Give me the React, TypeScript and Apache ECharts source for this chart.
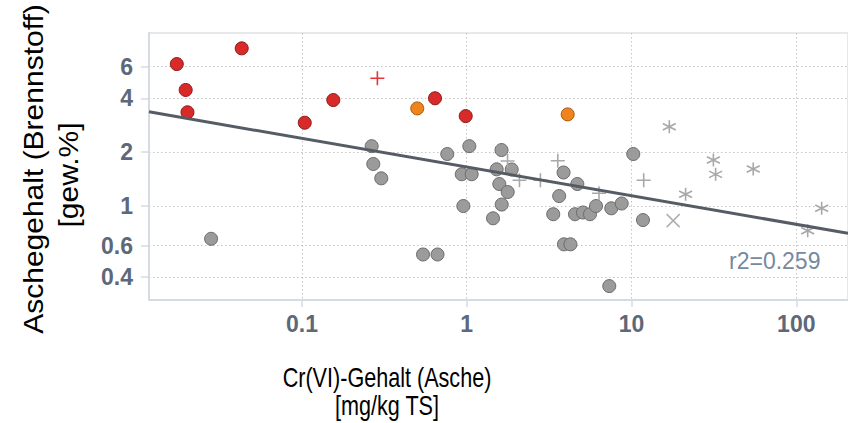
import React, { useEffect, useRef } from "react";
import * as echarts from "echarts";

const xTicks = [0.1, 1, 10, 100];
const yTicks = [0.4, 0.6, 1, 2, 4, 6];
const xRange = [0.0118, 206];
const yRange = [0.2985, 9.26];

const redCircles = [
  [0.0174, 6.21], [0.0431, 7.6], [0.0197, 4.45], [0.0202, 3.34],
  [0.104, 2.92], [0.155, 3.91], [0.642, 4.0], [0.986, 3.18],
];
const orangeCircles = [[0.501, 3.51], [4.1, 3.25]];
const redPlus = [[0.287, 5.17]];
const greyCircles = [
  [0.0281, 0.656], [0.265, 2.16], [0.271, 1.717], [0.303, 1.428],
  [0.543, 0.536], [0.665, 0.536], [0.762, 1.952], [0.933, 1.505],
  [1.072, 1.505], [0.954, 1.0], [1.037, 2.16], [1.444, 0.854],
  [1.52, 1.603], [1.626, 2.055], [1.875, 1.6], [1.577, 1.327],
  [1.773, 1.197], [1.631, 1.019], [3.87, 1.539], [4.69, 1.327],
  [3.64, 1.137], [3.35, 0.9], [4.54, 0.9], [5.08, 0.92],
  [5.6, 0.9], [6.09, 1.0], [7.54, 0.971], [8.72, 1.033],
  [3.89, 0.611], [4.26, 0.611], [7.33, 0.357], [10.25, 1.952],
  [11.74, 0.835],
];
const greyPlus = [
  [1.769, 1.784], [2.09, 1.392], [2.8, 1.392], [3.57, 1.79],
  [6.35, 1.178], [11.86, 1.392],
];
const greyCross = [[17.9, 0.828]];
const greyStar = [
  [16.96, 2.77], [31.4, 1.807], [32.4, 1.503], [54.8, 1.609],
  [21.3, 1.164], [142.6, 0.971], [117.3, 0.728],
];
const regression = [[0.0118, 3.36], [206, 0.704]];
const r2Label = "r2=0.259";
const xTitle = ["Cr(VI)-Gehalt (Asche)", "[mg/kg TS]"];
const yTitle = ["Aschegehalt (Brennstoff)", "[gew.%]"];

const PLUS = "path://M5,0L5,10M0,5L10,5";
const CROSS = "path://M0,0L10,10M0,10L10,0";
const STAR = "path://M5,0L5,10M0.67,2.5L9.33,7.5M0.67,7.5L9.33,2.5";

const tickFont = "Arial, 'Liberation Sans', sans-serif";
const tickColor = "#5d6878";
const titleFont = "Arial, 'Liberation Sans', sans-serif";

const fmt = (v: number) => String(Number(Number(v).toPrecision(3)));

export default function App() {
  const ref = useRef<HTMLDivElement>(null);
  useEffect(() => {
    if (!ref.current) return;
    const chart = echarts.init(ref.current, null, { renderer: "svg" });
    const splitLine = {
      show: true,
      lineStyle: { color: "#c4c4c4", width: 1, type: [1.5, 2.5] as any },
    };
    const circle = (data: number[][], fill: string, border: string, name: string) => ({
      type: "scatter",
      name,
      data,
      symbol: "circle",
      symbolSize: 13,
      itemStyle: { color: fill, borderColor: border, borderWidth: 1, opacity: 1 },
      z: 3,
    });
    const lineSym = (data: number[][], sym: string, size: number, color: string, name: string) => ({
      type: "scatter",
      name,
      data,
      symbol: sym,
      symbolSize: size,
      itemStyle: { color: "none", borderColor: color, borderWidth: 1.6, opacity: 1 },
      z: 3,
    });
    const title = (text: string, x: number, y: number, rot: number, size: number, sx: number, sy: number) => ({
      type: "text",
      x,
      y,
      rotation: rot,
      scaleX: sx,
      scaleY: sy,
      style: {
        text,
        fontSize: size,
        fontFamily: titleFont,
        fill: "#000",
        align: "center",
        verticalAlign: "middle",
      },
    });
    chart.setOption({
      animation: false,
      backgroundColor: "#ffffff",
      grid: {
        left: 149,
        top: 33,
        right: 0,
        bottom: 123,
        show: true,
        borderColor: "#e6e8ec",
        borderWidth: 2,
        outerBoundsMode: "none",
        containLabel: false,
      },
      xAxis: {
        type: "log",
        min: xRange[0],
        max: xRange[1],
        axisLine: { show: true, lineStyle: { color: "#d6dae3", width: 2 } },
        axisTick: { show: true, length: 7, lineStyle: { color: "#d6dae3", width: 1.5 }, customValues: xTicks },
        axisLabel: {
          customValues: xTicks,
          formatter: fmt,
          margin: 12,
          color: tickColor,
          fontSize: 23,
          fontWeight: "bold",
          fontFamily: tickFont,
        },
        splitLine,
      },
      yAxis: {
        type: "log",
        min: yRange[0],
        max: yRange[1],
        axisLine: { show: true, lineStyle: { color: "#d6dae3", width: 2 } },
        axisTick: { show: true, length: 8, lineStyle: { color: "#d6dae3", width: 1.5 }, customValues: yTicks },
        axisLabel: {
          customValues: yTicks,
          formatter: fmt,
          margin: 16,
          color: tickColor,
          fontSize: 23,
          fontWeight: "bold",
          fontFamily: tickFont,
        },
        splitLine,
      },
      series: [
        circle(greyCircles, "#9b9b9b", "#6b6b6b", "grey"),
        circle(redCircles, "#d92a2a", "#8c1a1a", "red"),
        circle(orangeCircles, "#f0841c", "#a55a10", "orange"),
        lineSym(redPlus, PLUS, 14, "#e53535", "redPlus"),
        lineSym(greyPlus, PLUS, 14, "#a8a8a8", "greyPlus"),
        lineSym(greyCross, CROSS, 13, "#b0b0b0", "greyCross"),
        lineSym(greyStar, STAR, 13, "#a8a8a8", "greyStar"),
        {
          type: "line",
          name: "fit",
          data: regression,
          showSymbol: false,
          symbol: "none",
          lineStyle: { color: "#565c65", width: 3 },
          z: 4,
        },
      ],
      graphic: [
        title(yTitle[0], 33, 169, Math.PI / 2, 30, 1, 0.95),
        title(yTitle[1], 68, 175, Math.PI / 2, 30, 1, 0.95),
        title(xTitle[0], 387, 378, 0, 27, 0.8, 1),
        title(xTitle[1], 387, 406, 0, 27, 0.8, 1),
        {
          type: "text",
          x: 729,
          y: 261,
          style: {
            text: r2Label,
            fontSize: 23,
            fontFamily: titleFont,
            fill: "#7888a0",
            align: "left",
            verticalAlign: "middle",
          },
        },
      ],
    });
    return () => chart.dispose();
  }, []);
  return (
    <div
      ref={ref}
      style={{ position: "fixed", left: 0, top: 0, width: 848, height: 423, background: "#fff" }}
    />
  );
}
